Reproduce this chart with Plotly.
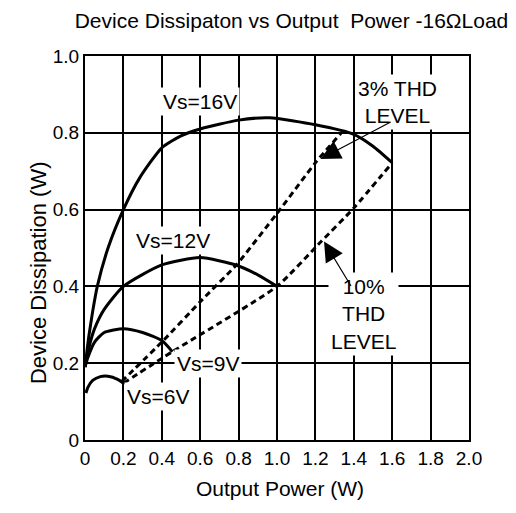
import plotly.graph_objects as go

# ---- data (W) ----
vs16_x = [0.0, 0.02, 0.04, 0.064, 0.12, 0.2, 0.284, 0.4, 0.5, 0.6, 0.8, 0.96, 1.2, 1.4, 1.5, 1.6]
vs16_y = [0.19, 0.27, 0.335, 0.4, 0.5, 0.6, 0.682, 0.761, 0.792, 0.81, 0.833, 0.839, 0.821, 0.796, 0.765, 0.722]

vs12_x = [0.0, 0.02, 0.05, 0.1, 0.2, 0.4, 0.6, 0.79, 0.9, 1.0]
vs12_y = [0.19, 0.24, 0.29, 0.34, 0.4, 0.456, 0.475, 0.455, 0.43, 0.4]

vs9_x = [0.0, 0.015, 0.05, 0.1, 0.2, 0.3, 0.4, 0.455]
vs9_y = [0.19, 0.215, 0.255, 0.28, 0.29, 0.28, 0.259, 0.23]

vs6_x = [0.005, 0.015, 0.04, 0.08, 0.12, 0.17, 0.2]
vs6_y = [0.122, 0.137, 0.155, 0.165, 0.166, 0.158, 0.148]

thd3_x = [0.19, 0.4, 0.6, 0.79, 1.0, 1.2, 1.335]
thd3_y = [0.152, 0.255, 0.36, 0.457, 0.59, 0.722, 0.8]

thd10_x = [0.2, 0.455, 1.0, 1.23, 1.4, 1.6]
thd10_y = [0.148, 0.23, 0.4, 0.517, 0.604, 0.722]

x_tickvals = [0, 0.2, 0.4, 0.6, 0.8, 1.0, 1.2, 1.4, 1.6, 1.8, 2.0]
x_ticktext = ["0", "0.2", "0.4", "0.6", "0.8", "1.0", "1.2", "1.4", "1.6", "1.8", "2.0"]
y_tickvals = [0, 0.2, 0.4, 0.6, 0.8, 1.0]
y_ticktext = ["0", "0.2", "0.4", "0.6", "0.8", "1.0"]

FONT = "Liberation Sans, Arial, sans-serif"

fig = go.Figure()
for xs, ys in [(vs16_x, vs16_y), (vs12_x, vs12_y), (vs9_x, vs9_y), (vs6_x, vs6_y)]:
    fig.add_trace(go.Scatter(x=xs, y=ys, mode="lines",
                             line=dict(color="black", width=3, shape="spline", smoothing=0.6),
                             showlegend=False, hoverinfo="skip"))
for xs, ys in [(thd3_x, thd3_y), (thd10_x, thd10_y)]:
    fig.add_trace(go.Scatter(x=xs, y=ys, mode="lines",
                             line=dict(color="black", width=3, dash="6px,4px", shape="spline", smoothing=0.5),
                             showlegend=False, hoverinfo="skip"))

ann_font = dict(family=FONT, size=21, color="black")
labels = [
    ("Vs=16V", 0.6, 0.882),
    ("Vs=12V", 0.46, 0.52),
    ("Vs=9V", 0.64, 0.2),
    ("Vs=6V", 0.38, 0.113),
    ("3% THD<br>LEVEL", 1.63, 0.88),
    ("10%<br>THD<br>LEVEL", 1.45, 0.327),
]
for t, x, y in labels:
    fig.add_annotation(x=x, y=y, xref="x", yref="y", text=t, showarrow=False,
                       font=ann_font, bgcolor="white", borderpad=2)

# arrows
fig.add_annotation(x=1.227, y=0.732, ax=1.6, ay=0.83, xref="x", yref="y", axref="x", ayref="y",
                   text="", showarrow=True, arrowhead=2, arrowsize=3.3, arrowwidth=1.2, arrowcolor="black")
fig.add_annotation(x=1.245, y=0.517, ax=1.39, ay=0.397, xref="x", yref="y", axref="x", ayref="y",
                   text="", showarrow=True, arrowhead=2, arrowsize=3.3, arrowwidth=1.2, arrowcolor="black")

# axis titles
fig.add_annotation(text="Output Power (W)", xref="paper", yref="paper", x=0.508, y=-0.161,
                   showarrow=False, font=dict(family=FONT, size=21, color="black"))
fig.add_annotation(text="Device Dissipation (W)", xref="paper", yref="paper", x=-0.159, y=0.436,
                   textangle=-90, showarrow=False, font=dict(family=FONT, size=22, color="black"))

axis_common = dict(showgrid=True, gridcolor="black", gridwidth=2, showline=True, linecolor="black",
                   linewidth=2, mirror=True, zeroline=False, ticks="",
                   tickfont=dict(family=FONT, size=19, color="black"))
fig.update_xaxes(range=[0, 2], tickvals=x_tickvals, ticktext=x_ticktext, **axis_common)
fig.update_yaxes(range=[0, 1], tickvals=y_tickvals, ticktext=y_ticktext, **axis_common)

W, H = 508, 505
fig.update_layout(
    width=W, height=H, autosize=False,
    margin=dict(l=77, r=47, t=48, b=73),
    paper_bgcolor="white", plot_bgcolor="white",
    title=dict(text="Device Dissipaton vs Output  Power -16ΩLoad", x=283.5 / W, y=1 - 13 / H,
               xanchor="center", yanchor="middle", font=dict(family=FONT, size=21, color="black")),
)

fig.write_html("out.html")
